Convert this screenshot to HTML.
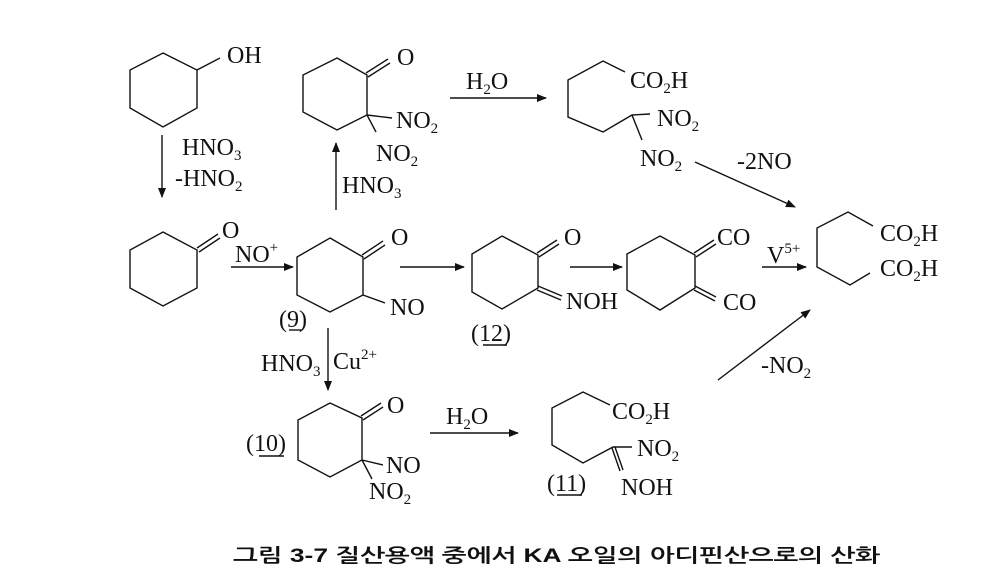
<!DOCTYPE html>
<html><head><meta charset="utf-8"><style>
html,body{margin:0;padding:0;background:#fff;}
svg{display:block}
text{font-family:"Liberation Serif",serif;font-size:24px;fill:#111}
.k{font-family:"Liberation Sans","NanumGothic","Noto Sans CJK KR",sans-serif;font-size:19px;font-weight:bold}
.s{font-size:15px}
</style></head><body>
<svg width="1005" height="588" viewBox="0 0 1005 588" xmlns="http://www.w3.org/2000/svg">
<defs><marker id="a" markerWidth="10" markerHeight="8" refX="9" refY="4" orient="auto" markerUnits="userSpaceOnUse"><path d="M0,0 L10,4 L0,8z" fill="#111"/></marker></defs>
<g stroke="#111" stroke-width="1.4" fill="none">
<polygon points="163,53 197,70 197,108 163,127 130,108 130,70"/>
<line x1="197" y1="70" x2="220" y2="58"/>
<line x1="162" y1="135" x2="162" y2="197" marker-end="url(#a)"/>
<polygon points="163,232 197,250 197,288 163,306 130,288 130,250"/>
<line x1="197" y1="248" x2="218" y2="234"/><line x1="199" y1="252" x2="220" y2="238"/>
<line x1="231" y1="267" x2="293" y2="267" marker-end="url(#a)"/>
<polygon points="330,238 363,257 363,295 330,312 297,295 297,257"/>
<line x1="362" y1="255" x2="383" y2="241"/><line x1="364" y1="259" x2="385" y2="245"/>
<line x1="363" y1="295" x2="385" y2="303"/>
<line x1="336" y1="210" x2="336" y2="143" marker-end="url(#a)"/>
<polygon points="337,58 367,75 367,115 337,130 303,112 303,75"/>
<line x1="366" y1="73" x2="388" y2="59"/><line x1="368" y1="77" x2="390" y2="63"/>
<line x1="367" y1="115" x2="392" y2="118"/><line x1="367" y1="115" x2="376" y2="132"/>
<line x1="450" y1="98" x2="546" y2="98" marker-end="url(#a)"/>
<polyline points="625,72 603,61 568,80 568,117 603,132 632,115 650,114"/>
<line x1="632" y1="115" x2="642" y2="140"/>
<line x1="695" y1="162" x2="795" y2="207" marker-end="url(#a)"/>
<polyline points="873,226 848,212 817,228 817,267 850,285 870,273"/>
<line x1="762" y1="267" x2="806" y2="267" marker-end="url(#a)"/>
<polygon points="502,236 538,255 538,288 502,309 472,292 472,254"/>
<line x1="537" y1="253" x2="557" y2="240"/><line x1="539" y1="257" x2="559" y2="244"/>
<line x1="538" y1="286" x2="562" y2="296"/><line x1="537" y1="290" x2="561" y2="300"/>
<line x1="400" y1="267" x2="464" y2="267" marker-end="url(#a)"/>
<line x1="570" y1="267" x2="622" y2="267" marker-end="url(#a)"/>
<polygon points="660,236 695,255 695,288 660,310 627,290 627,254"/>
<line x1="694" y1="253" x2="714" y2="240"/><line x1="696" y1="257" x2="716" y2="244"/>
<line x1="695" y1="286" x2="716" y2="297"/><line x1="694" y1="290" x2="715" y2="301"/>
<line x1="328" y1="328" x2="328" y2="390" marker-end="url(#a)"/>
<polygon points="330,403 362,418 362,460 330,477 298,460 298,420"/>
<line x1="361" y1="416" x2="381" y2="403"/><line x1="363" y1="420" x2="383" y2="407"/>
<line x1="362" y1="460" x2="383" y2="465"/><line x1="362" y1="460" x2="372" y2="479"/>
<line x1="430" y1="433" x2="518" y2="433" marker-end="url(#a)"/>
<polyline points="610,405 583,392 552,408 552,445 583,463 613,447 632,447"/>
<line x1="612" y1="448" x2="620" y2="471"/><line x1="615" y1="447" x2="623" y2="470"/>
<line x1="718" y1="380" x2="810" y2="310" marker-end="url(#a)"/>
<line x1="289" y1="330" x2="302" y2="330"/>
<line x1="483" y1="345" x2="507" y2="345"/>
<line x1="259" y1="456" x2="284" y2="456"/>
<line x1="557" y1="495" x2="582" y2="495"/>
</g>
<text x="227" y="63">OH</text>
<text x="182" y="155">HNO<tspan class="s" dy="5">3</tspan></text>
<text x="175" y="186">-HNO<tspan class="s" dy="5">2</tspan></text>
<text x="222" y="238">O</text>
<text x="235" y="262">NO<tspan class="s" dy="-10">+</tspan></text>
<text x="391" y="245">O</text>
<text x="390" y="315">NO</text>
<text x="279" y="327">(9)</text>
<text x="342" y="193">HNO<tspan class="s" dy="5">3</tspan></text>
<text x="397" y="65">O</text>
<text x="396" y="128">NO<tspan class="s" dy="5">2</tspan></text>
<text x="376" y="161">NO<tspan class="s" dy="5">2</tspan></text>
<text x="466" y="89">H<tspan class="s" dy="5">2</tspan><tspan dy="-5">O</tspan></text>
<text x="630" y="88">CO<tspan class="s" dy="5">2</tspan><tspan dy="-5">H</tspan></text>
<text x="657" y="126">NO<tspan class="s" dy="5">2</tspan></text>
<text x="640" y="166">NO<tspan class="s" dy="5">2</tspan></text>
<text x="737" y="169">-2NO</text>
<text x="880" y="241">CO<tspan class="s" dy="5">2</tspan><tspan dy="-5">H</tspan></text>
<text x="880" y="276">CO<tspan class="s" dy="5">2</tspan><tspan dy="-5">H</tspan></text>
<text x="767" y="263">V<tspan class="s" dy="-10">5+</tspan></text>
<text x="564" y="245">O</text>
<text x="566" y="309">NOH</text>
<text x="471" y="341">(12)</text>
<text x="717" y="245">CO</text>
<text x="723" y="310">CO</text>
<text x="261" y="371">HNO<tspan class="s" dy="5">3</tspan></text>
<text x="333" y="369">Cu<tspan class="s" dy="-10">2+</tspan></text>
<text x="387" y="413">O</text>
<text x="386" y="473">NO</text>
<text x="369" y="499">NO<tspan class="s" dy="5">2</tspan></text>
<text x="246" y="451">(10)</text>
<text x="446" y="424">H<tspan class="s" dy="5">2</tspan><tspan dy="-5">O</tspan></text>
<text x="612" y="419">CO<tspan class="s" dy="5">2</tspan><tspan dy="-5">H</tspan></text>
<text x="637" y="456">NO<tspan class="s" dy="5">2</tspan></text>
<text x="621" y="495">NOH</text>
<text x="547" y="491">(11)</text>
<text x="761" y="373">-NO<tspan class="s" dy="5">2</tspan></text>
<text class="k" x="233" y="562" textLength="647" lengthAdjust="spacingAndGlyphs">그림 3-7  질산용액 중에서 KA 오일의 아디핀산으로의 산화</text>
</svg>
</body></html>
